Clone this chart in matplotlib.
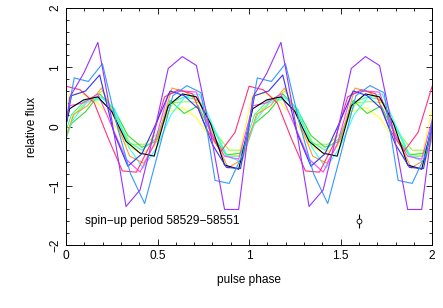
import numpy as np
import matplotlib
matplotlib.use('Agg')
import matplotlib.pyplot as plt
from matplotlib.ticker import MultipleLocator

plt.rcParams['font.family'] = ['Liberation Sans', 'DejaVu Sans']

# 13 phase bins per period, each profile has its own phase start
nbins = 13
offsets = {
    'purple': 0.02, 'dodger': 0.045, 'blue': 0.03, 'black': 0.02,
    'red': 0.0, 'magenta': 0.02, 'orange': 0.04, 'yellow': 0.02,
    'green': 0.03, 'chartreuse': 0.045, 'spring': 0.03, 'cyan': 0.035,
}
colors = {
    'purple': '#9933ff', 'dodger': '#3399ff', 'blue': '#3333ff', 'black': 'black',
    'red': '#ff3377', 'magenta': '#ff44ff', 'orange': '#ff9933', 'yellow': '#ffff33',
    'green': '#33dd33', 'chartreuse': '#99ff33', 'spring': '#33ff99', 'cyan': '#33ffff',
}
profiles = {
    'yellow':     [0.55, 0.55, 0.40, 0.10, -0.30, -0.45, -0.35, 0.25, 0.32, 0.15, -0.20, -0.45, -0.50],
    'chartreuse': [0.20, 0.45, 0.60, 0.15, -0.30, -0.30, -0.10, 0.40, 0.42, 0.40, -0.10, -0.40, -0.40],
    'green':      [0.05, 0.25, 0.55, 0.30, -0.15, -0.35, -0.25, 0.44, 0.22, 0.35, -0.15, -0.48, -0.45],
    'spring':     [0.20, 0.45, 0.45, 0.25, -0.25, -0.40, -0.20, 0.40, 0.50, 0.45, 0.00, -0.50, -0.50],
    'cyan':       [0.10, 0.40, 0.50, 0.30, -0.35, -0.70, -0.35, 0.20, 0.50, 0.55, 0.00, -0.50, -0.60],
    'orange':     [0.20, 0.35, 0.65, 0.10, -0.50, -0.62, -0.20, 0.65, 0.58, 0.40, -0.20, -0.70, -0.55],
    'magenta':    [0.35, 0.40, 0.55, 0.00, -0.55, -0.77, -0.30, 0.55, 0.60, 0.58, -0.10, -0.50, -0.55],
    'red':        [0.68, 0.62, 0.40, -0.20, -0.75, -0.77, -0.30, 0.50, 0.62, 0.55, -0.05, -0.42, -0.10],
    'black':      [0.30, 0.45, 0.50, 0.25, -0.25, -0.45, -0.50, 0.35, 0.55, 0.50, 0.05, -0.65, -0.72],
    'blue':       [0.52, 0.60, 0.87, -0.10, -0.67, -0.46, 0.05, 0.60, 0.52, 0.30, -0.30, -0.69, -0.71],
    'dodger':     [0.82, 0.76, 1.06, 0.05, -0.80, -1.30, -0.40, 0.52, 0.69, 0.57, -0.91, -0.96, -0.45],
    'purple':     [0.49, 0.90, 1.42, 0.10, -1.35, -1.07, -0.10, 0.98, 1.18, 1.03, -0.10, -1.40, -1.40],
}

# typical error bar
err_phase = 1.6
err_flux = -1.6
err_size = 0.12

label_text = 'spin\u2212up period 58529\u221258551'

fig = plt.figure(figsize=(4.43, 3.08), dpi=100)
ax = fig.add_axes([0.149, 0.2045, 0.8265, 0.7695])

for name, vals in profiles.items():
    ph = offsets[name] + np.arange(nbins) / nbins
    x = np.concatenate([ph + k for k in (-1, 0, 1, 2)])
    y = np.tile(vals, 4)
    ax.plot(x, y, color=colors[name], lw=0.8)

ax.errorbar([err_phase], [err_flux], yerr=[err_size], fmt='o', mfc='white',
            mec='black', ms=3.5, mew=0.6, ecolor='black', elinewidth=0.8, capsize=0)

ax.text(0.104, -1.6, label_text, fontsize=8.6, va='center', ha='left')

ax.set_xlim(0, 2)
ax.set_ylim(-2, 2)
ax.xaxis.set_major_locator(MultipleLocator(0.5))
ax.xaxis.set_minor_locator(MultipleLocator(0.1))
ax.yaxis.set_major_locator(MultipleLocator(1))
ax.yaxis.set_minor_locator(MultipleLocator(0.2))
ax.xaxis.set_major_formatter(plt.FuncFormatter(lambda v, p: '%g' % v))
ax.yaxis.set_major_formatter(plt.FuncFormatter(lambda v, p: ('%g' % v).replace('-', '\u2212')))
ax.tick_params(which='both', direction='in', top=True, right=True, labelsize=8.6, width=0.6)
ax.tick_params(which='major', length=4.5)
ax.tick_params(which='minor', length=2.3)
for lab in ax.get_yticklabels():
    lab.set_rotation(90)
    lab.set_va('center')
for s in ax.spines.values():
    s.set_linewidth(0.7)

ax.set_xlabel('pulse phase', fontsize=8.6, labelpad=9)
ax.set_ylabel('relative flux', fontsize=8.6, labelpad=8)

fig.savefig('out.png', dpi=100)
